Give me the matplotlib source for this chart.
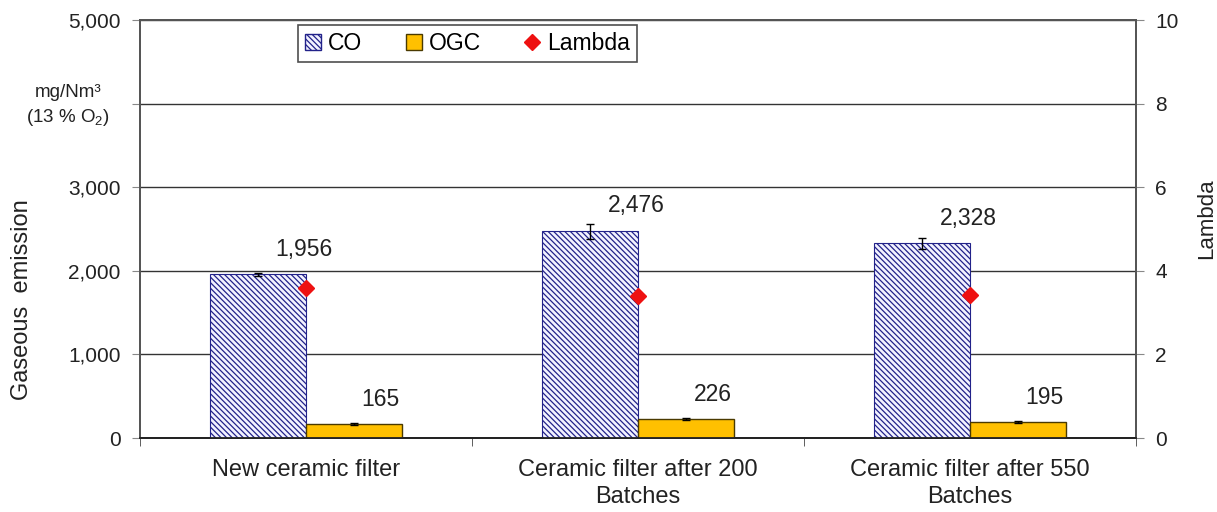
import numpy as np
import matplotlib.pyplot as plt
from matplotlib.lines import Line2D
from matplotlib.patches import Patch

plt.rcParams['font.family'] = ['Liberation Sans', 'DejaVu Sans']
plt.rcParams['mathtext.fontset'] = 'custom'
plt.rcParams['mathtext.rm'] = 'Liberation Sans'
plt.rcParams['hatch.linewidth'] = 0.9
plt.rcParams['hatch.color'] = '#4a4ad4'

# data
categories = ['New ceramic filter', 'Ceramic filter after 200\nBatches',
              'Ceramic filter after 550\nBatches']
co = [1956, 2476, 2328]
co_err = [20, 90, 70]
ogc = [165, 226, 195]
ogc_err = [15, 15, 12]
lam = [3.59, 3.40, 3.42]
yticks_left = [0, 1000, 2000, 3000, 4000, 5000]
yticks_right = [0, 2, 4, 6, 8, 10]

fig = plt.figure(figsize=(12.17, 5.12), dpi=100)
ax = fig.add_axes([0.115, 0.1445, 0.8184, 0.8164])
ax2 = ax.twinx()

x = np.arange(len(categories))
w = 0.29
co_face = '#f2f2ff'
co_edge = '#22228a'
ogc_face = '#ffc000'

ax.bar(x - w / 2, co, w, facecolor=co_face, edgecolor=co_edge, linewidth=0.8,
       hatch='\\\\\\\\\\\\', zorder=3)
ax.bar(x + w / 2, ogc, w, facecolor=ogc_face, edgecolor='#4a3a00', linewidth=1.0, zorder=3)
ax.errorbar(x - w / 2, co, yerr=co_err, fmt='none', ecolor='black', elinewidth=1,
            capsize=3, zorder=4)
ax.errorbar(x + w / 2, ogc, yerr=ogc_err, fmt='none', ecolor='black', elinewidth=1,
            capsize=3, zorder=4)

# value labels
for i in range(len(x)):
    ax.text(x[i] - w / 2 + 0.14, co[i] + 300, f'{co[i]:,}', ha='center', va='center',
            fontsize=16.5, color='#222222')
    ax.text(x[i] + w / 2 + 0.08, ogc[i] + 290, f'{ogc[i]:,}', ha='center', va='center',
            fontsize=16.5, color='#222222')

ax2.plot(x, lam, linestyle='none', marker='D', markersize=8, color='#ee1111',
         markeredgecolor='#ee1111', zorder=5)

ax.set_xlim(-0.5, 2.5)
ax.set_ylim(0, 5000)
ax2.set_ylim(0, 10)
ax.set_yticks(yticks_left)
# 4,000 label is hidden behind the unit text in the original
ax.set_yticklabels(['' if v == 4000 else f'{v:,}' for v in yticks_left])
ax2.set_yticks(yticks_right)
ax.set_xticks(x)
ax.set_xticklabels(categories, linespacing=1.3)
ax.set_xticks([-0.5, 0.5, 1.5, 2.5], minor=True)
ax.tick_params(axis='x', which='major', length=0, pad=15, labelsize=17, labelcolor='#222222')
ax.tick_params(axis='x', which='minor', length=6, direction='out', color='#444444')
ax.tick_params(axis='y', length=6, direction='out', pad=8, labelsize=15,
               labelcolor='#222222', color='#888888')
ax2.tick_params(axis='y', length=6, direction='out', pad=8, labelsize=15,
                labelcolor='#222222', color='#888888')

ax.grid(axis='y', color='#333333', linewidth=1.0, zorder=0)
ax.set_axisbelow(True)
for a in (ax, ax2):
    for s in a.spines.values():
        s.set_color('#555555')
        s.set_linewidth(1.3)
    a.spines['bottom'].set_color('#222222')

fig.text(22 / 1217, 1 - 300 / 512, 'Gaseous  emission', rotation=90, ha='center',
         va='center', fontsize=17, color='#222222')
fig.text(1207 / 1217, 1 - 219 / 512, 'Lambda', rotation=90, ha='center', va='center',
         fontsize=16, color='#222222')
fig.text(68 / 1217, 1 - 106 / 512, 'mg/Nm³\n(13 % O$_2$)', ha='center', va='center',
         fontsize=13.5, color='#222222', linespacing=1.4)

handles = [Patch(facecolor=co_face, edgecolor=co_edge, hatch='\\\\\\\\\\\\', label='CO'),
           Patch(facecolor=ogc_face, edgecolor='#4a3a00', label='OGC'),
           Line2D([], [], linestyle='none', marker='D', markersize=8, color='#ee1111',
                  label='Lambda')]
leg = fig.legend(handles=handles, loc='upper left', bbox_to_anchor=(298 / 1217, 1 - 25 / 512),
                 ncol=3, fontsize=16.5, frameon=True, fancybox=False, handlelength=0.7,
                 handleheight=0.7, handletextpad=0.3, columnspacing=1.9,
                 borderpad=0.3, borderaxespad=0, edgecolor='#222222')
leg.get_frame().set_linewidth(1.2)

fig.savefig('out.png', dpi=100)
